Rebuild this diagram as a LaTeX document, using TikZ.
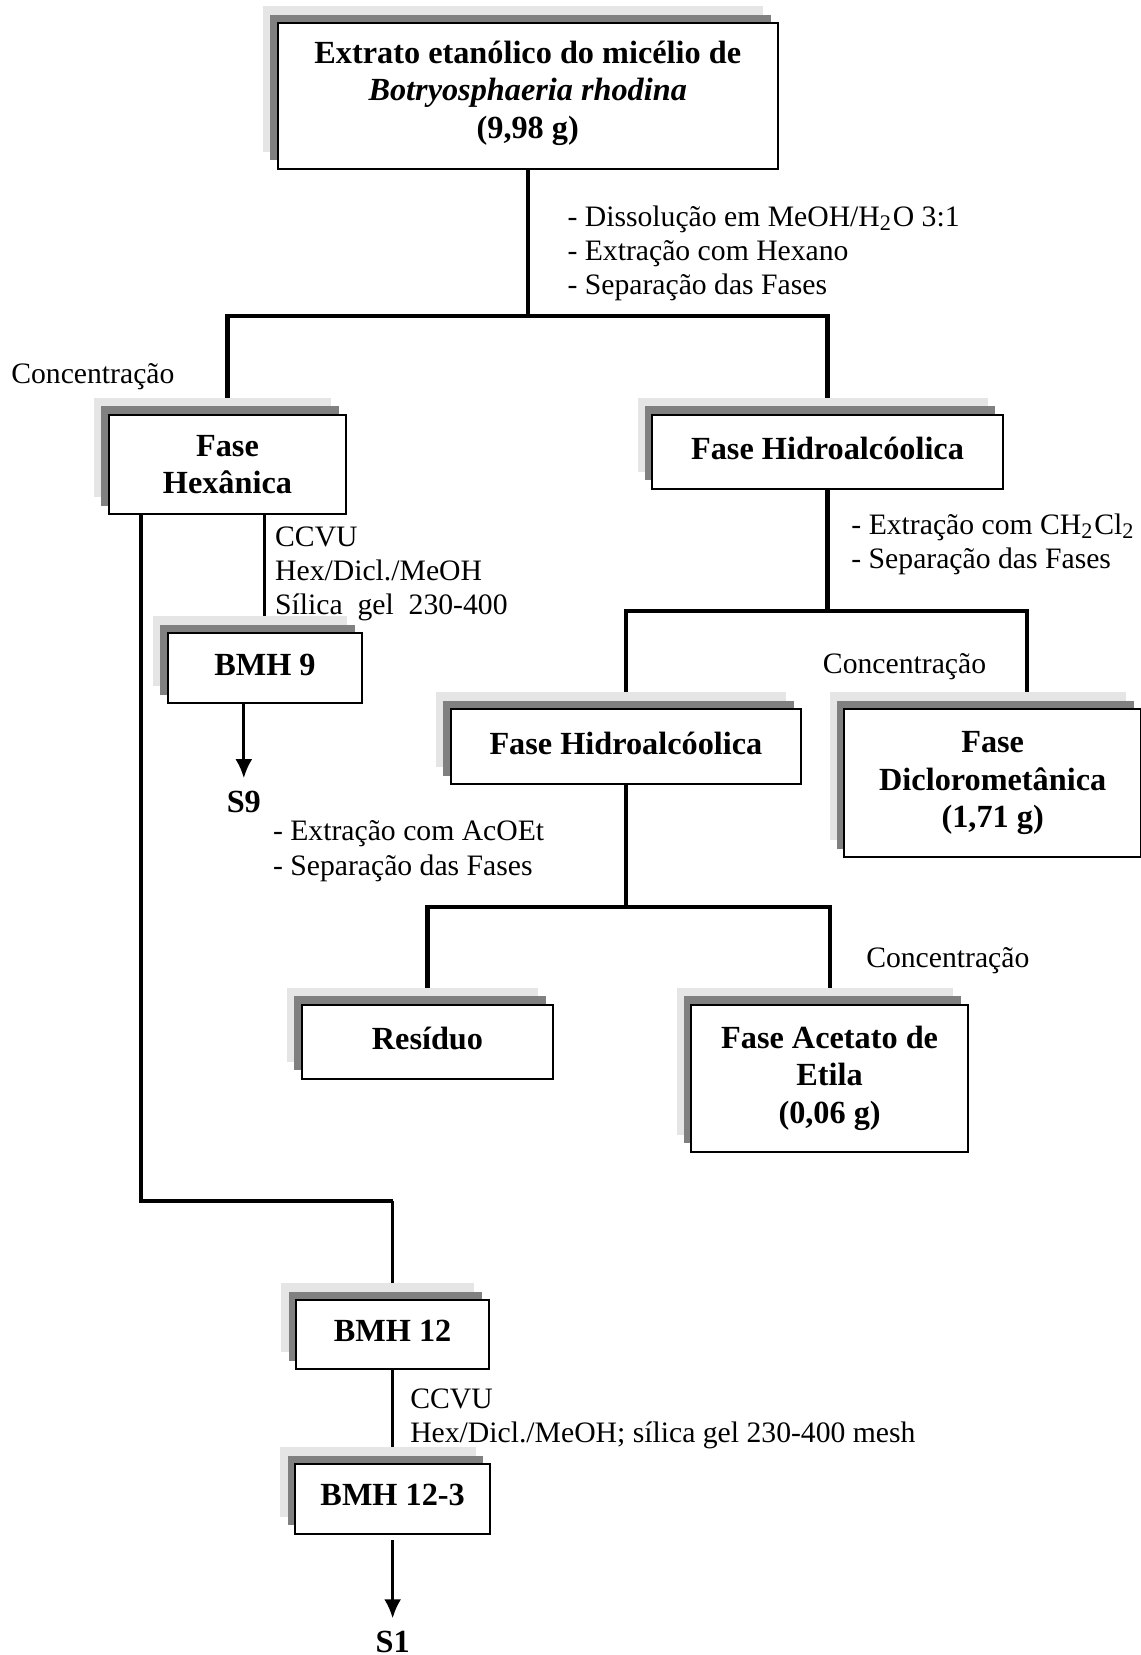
\documentclass[tikz,border=0pt]{standalone}
\usepackage{fontspec}
\setmainfont{Liberation Serif}
\usetikzlibrary{arrows.meta,positioning,shadows,backgrounds}

\begin{document}
\begin{tikzpicture}[>={Latex[length=1.8mm,width=1.6mm]},on grid,
  every node/.style={font=\fontsize{8.7}{10.1}\selectfont},
  caixa/.style={draw,line width=0.55pt,fill=white,align=center,inner sep=0pt,
    font=\fontsize{8.7}{10.1}\selectfont\bfseries,
    general shadow={shadow xshift=-0.14cm,shadow yshift=0.16cm,fill=black!10},
    general shadow={shadow xshift=-0.07cm,shadow yshift=0.08cm,fill=black!50}},
  umalinha/.style={caixa,text depth=2pt},
  nota/.style={anchor=north west,align=left,inner sep=0pt,font=\fontsize{8.0}{9.25}\selectfont}]
  \useasboundingbox (0,0) rectangle (10.81,-15.68);

  \node[caixa,text depth=3.6pt,minimum width=4.74cm,minimum height=1.38cm] (extrato) at (5,-0.91) {Extrato etanólico do micélio de\\\textit{Botryosphaeria rhodina}\\(9,98 g)};
  \node[caixa,minimum width=2.25cm,minimum height=0.94cm] (hexanica) [below left=3.49cm and 2.845cm of extrato] {Fase\\Hexânica};
  \node[umalinha,minimum width=3.32cm,minimum height=0.70cm] (hidro1) [below right=3.37cm and 2.84cm of extrato] {Fase Hidroalcóolica};
  \node[umalinha,minimum width=1.84cm,minimum height=0.66cm] (bmh9) [below right=1.93cm and 0.355cm of hexanica] {BMH 9};
  \node[umalinha,minimum width=3.32cm,minimum height=0.71cm] (hidro2) [below left=2.795cm and 1.91cm of hidro1] {Fase Hidroalcóolica};
  \node[caixa,minimum width=2.81cm,minimum height=1.40cm] (dicloro) [below right=3.14cm and 1.565cm of hidro1] {Fase\\Diclorometânica\\(1,71 g)};
  \node[umalinha,minimum width=2.38cm,minimum height=0.70cm] (residuo) [below left=2.795cm and 1.88cm of hidro2] {Resíduo};
  \node[caixa,minimum width=2.62cm,minimum height=1.39cm] (acetato) [below right=3.14cm and 1.93cm of hidro2] {Fase Acetato de\\Etila\\(0,06 g)};
  \node[umalinha,minimum width=1.83cm,minimum height=0.65cm] (bmh12) [below right=8.245cm and 1.565cm of hexanica] {BMH 12};
  \node[umalinha,minimum width=1.85cm,minimum height=0.66cm] (bmh123) [below=1.555cm of bmh12] {BMH 12-3};
  \node[font=\fontsize{8.7}{10.1}\selectfont\bfseries] (s9) [below left=1.27cm and 0.2cm of bmh9] {S9};
  \node[font=\fontsize{8.7}{10.1}\selectfont\bfseries] (s1) [below=1.36cm of bmh123] {S1};

  \begin{pgfonlayer}{background}
  \tikzset{ramo/.style={line width=1.1pt},fino/.style={line width=0.8pt}}
  \node[nota] (passo1) at (5.37,-1.94) {- Dissolução em MeOH/H\textsubscript{2}O 3:1\\- Extração com Hexano\\- Separação das Fases};
  \node[nota] (conc1) at (0.10,-3.44) {Concentração};
  \node[nota] (ccvu1) at (2.60,-4.98) {CCVU\\Hex/Dicl./MeOH\\Sílica\ \ gel\ \ 230-400};
  \node[nota] (passo2) at (8.06,-4.86) {- Extração com CH\textsubscript{2}Cl\textsubscript{2}\\- Separação das Fases};
  \node[nota] (conc2) at (7.79,-6.18) {Concentração};
  \node[nota] (passo3) at (2.58,-7.77) {- Extração com AcOEt\\- Separação das Fases};
  \node[nota] (conc3) at (8.20,-8.97) {Concentração};
  \node[nota] (ccvu2) at (3.88,-13.15) {CCVU\\Hex/Dicl./MeOH; sílica gel 230-400 mesh};

  \draw[ramo] (extrato.south) -- ++(0,-1.38) coordinate (j1);
  \draw[ramo] (hexanica.north) -- (hexanica.north |- j1) -- (hidro1.north |- j1) -- (hidro1.north);
  \draw[ramo] (hidro1.south) -- ++(0,-1.15) coordinate (j2);
  \coordinate (d1) at ([xshift=0.325cm]dicloro.north);
  \draw[ramo] (hidro2.north) -- (hidro2.north |- j2) -- (d1 |- j2) -- (d1);
  \draw[ramo] (hidro2.south) -- ++(0,-1.15) coordinate (j3);
  \draw[ramo] (residuo.north) -- (residuo.north |- j3) -- (acetato.north |- j3) -- (acetato.north);
  \draw[fino] (bmh9.north |- hexanica.south) -- (bmh9.north);
  \draw[ramo] ([xshift=-0.815cm]hexanica.south) -- ++(0,-6.5) coordinate (j4) -- (bmh12.north |- j4);
  \draw[fino] (bmh12.north |- j4) -- (bmh12.north);
  \draw[fino] (bmh12.south) -- (bmh123.north);
  \draw[fino,->] ([xshift=-0.2cm]bmh9.south) -- (s9.north);
  \draw[fino,->,shorten <=0.5mm] (bmh123.south) -- (s1.north);
  \end{pgfonlayer}
\end{tikzpicture}
\end{document}
